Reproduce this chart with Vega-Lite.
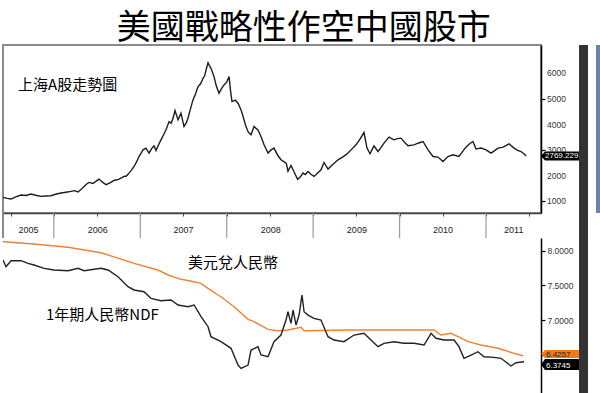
{
  "$schema": "https://vega.github.io/schema/vega-lite/v6.json",
  "padding": {"left": 2, "top": 12, "right": 0, "bottom": 0},
  "bounds": "flush",
  "spacing": 0,
  "background": "white",
  "title": {"text": "美國戰略性作空中國股市", "font": "Noto Sans CJK TC", "fontSize": 34, "fontWeight": "normal", "color": "#000", "anchor": "middle", "offset": -2},
  "config": {
    "view": {"stroke": null},
    "axis": {"labelFont": "Liberation Sans", "labelFontSize": 8.5, "labelColor": "#333", "title": null, "grid": false, "labelOverlap": false}
  },
  "datasets": {
    "shanghai": [
      {"year": 2005.412, "index": 1160}, {"year": 2005.46, "index": 1120}, {"year": 2005.505, "index": 1093}, {"year": 2005.56, "index": 1180},
      {"year": 2005.62, "index": 1250}, {"year": 2005.68, "index": 1230}, {"year": 2005.736, "index": 1288}, {"year": 2005.79, "index": 1240},
      {"year": 2005.852, "index": 1195}, {"year": 2005.91, "index": 1210}, {"year": 2005.967, "index": 1222}, {"year": 2006.02, "index": 1280},
      {"year": 2006.083, "index": 1327}, {"year": 2006.14, "index": 1360}, {"year": 2006.199, "index": 1390}, {"year": 2006.24, "index": 1420},
      {"year": 2006.28, "index": 1370}, {"year": 2006.32, "index": 1480}, {"year": 2006.349, "index": 1584}, {"year": 2006.38, "index": 1680},
      {"year": 2006.407, "index": 1740}, {"year": 2006.453, "index": 1700}, {"year": 2006.49, "index": 1790}, {"year": 2006.523, "index": 1872},
      {"year": 2006.56, "index": 1760}, {"year": 2006.604, "index": 1650}, {"year": 2006.65, "index": 1720}, {"year": 2006.696, "index": 1818},
      {"year": 2006.75, "index": 1860}, {"year": 2006.812, "index": 1974}, {"year": 2006.84, "index": 1990}, {"year": 2006.87, "index": 2105},
      {"year": 2006.9, "index": 2230}, {"year": 2006.928, "index": 2363}, {"year": 2006.96, "index": 2560}, {"year": 2006.985, "index": 2752},
      {"year": 2007.01, "index": 2880}, {"year": 2007.032, "index": 3013}, {"year": 2007.066, "index": 3080}, {"year": 2007.101, "index": 2885},
      {"year": 2007.13, "index": 3050}, {"year": 2007.159, "index": 3169}, {"year": 2007.182, "index": 2986}, {"year": 2007.21, "index": 3200},
      {"year": 2007.24, "index": 3402}, {"year": 2007.27, "index": 3600}, {"year": 2007.298, "index": 3792}, {"year": 2007.333, "index": 4115},
      {"year": 2007.356, "index": 4050}, {"year": 2007.379, "index": 4247}, {"year": 2007.402, "index": 4544}, {"year": 2007.437, "index": 4181},
      {"year": 2007.471, "index": 4442}, {"year": 2007.506, "index": 3921}, {"year": 2007.53, "index": 4050}, {"year": 2007.552, "index": 4247},
      {"year": 2007.58, "index": 4600}, {"year": 2007.61, "index": 4960}, {"year": 2007.64, "index": 5200}, {"year": 2007.668, "index": 5478},
      {"year": 2007.7, "index": 5600}, {"year": 2007.726, "index": 5805}, {"year": 2007.745, "index": 5900}, {"year": 2007.761, "index": 6128},
      {"year": 2007.784, "index": 6413}, {"year": 2007.8, "index": 6300}, {"year": 2007.818, "index": 6195}, {"year": 2007.853, "index": 5868},
      {"year": 2007.88, "index": 5500}, {"year": 2007.911, "index": 5221}, {"year": 2007.94, "index": 5400}, {"year": 2007.969, "index": 5544},
      {"year": 2008.0, "index": 5650}, {"year": 2008.027, "index": 5868}, {"year": 2008.045, "index": 5300}, {"year": 2008.061, "index": 4894},
      {"year": 2008.1, "index": 4950}, {"year": 2008.131, "index": 4832}, {"year": 2008.166, "index": 4571}, {"year": 2008.19, "index": 4300},
      {"year": 2008.223, "index": 3921}, {"year": 2008.25, "index": 3700}, {"year": 2008.281, "index": 3597}, {"year": 2008.316, "index": 3921},
      {"year": 2008.34, "index": 3850}, {"year": 2008.362, "index": 3792}, {"year": 2008.4, "index": 3500}, {"year": 2008.432, "index": 3208},
      {"year": 2008.478, "index": 2885}, {"year": 2008.51, "index": 3000}, {"year": 2008.547, "index": 3080}, {"year": 2008.59, "index": 2800},
      {"year": 2008.628, "index": 2624}, {"year": 2008.66, "index": 2550}, {"year": 2008.69, "index": 2480}, {"year": 2008.709, "index": 2180},
      {"year": 2008.744, "index": 2400}, {"year": 2008.78, "index": 2150}, {"year": 2008.82, "index": 1860}, {"year": 2008.85, "index": 1950},
      {"year": 2008.883, "index": 2106}, {"year": 2008.91, "index": 2050}, {"year": 2008.941, "index": 2168}, {"year": 2008.975, "index": 2060},
      {"year": 2009.01, "index": 1974}, {"year": 2009.05, "index": 2100}, {"year": 2009.091, "index": 2234}, {"year": 2009.126, "index": 2519},
      {"year": 2009.172, "index": 2262}, {"year": 2009.23, "index": 2450}, {"year": 2009.288, "index": 2624}, {"year": 2009.35, "index": 2750},
      {"year": 2009.403, "index": 2885}, {"year": 2009.45, "index": 3050}, {"year": 2009.496, "index": 3208}, {"year": 2009.54, "index": 3420},
      {"year": 2009.588, "index": 3687}, {"year": 2009.623, "index": 3080}, {"year": 2009.658, "index": 2857}, {"year": 2009.704, "index": 3169},
      {"year": 2009.75, "index": 2947}, {"year": 2009.78, "index": 3080}, {"year": 2009.82, "index": 3273}, {"year": 2009.877, "index": 3508},
      {"year": 2009.935, "index": 3402}, {"year": 2009.975, "index": 3450}, {"year": 2010.016, "index": 3468}, {"year": 2010.06, "index": 3300},
      {"year": 2010.097, "index": 3169}, {"year": 2010.167, "index": 3208}, {"year": 2010.22, "index": 3280}, {"year": 2010.271, "index": 3337},
      {"year": 2010.329, "index": 3013}, {"year": 2010.387, "index": 2752}, {"year": 2010.444, "index": 2729}, {"year": 2010.502, "index": 2558},
      {"year": 2010.56, "index": 2752}, {"year": 2010.618, "index": 2818}, {"year": 2010.687, "index": 2752}, {"year": 2010.73, "index": 2950},
      {"year": 2010.768, "index": 3118}, {"year": 2010.81, "index": 3250}, {"year": 2010.849, "index": 3337}, {"year": 2010.884, "index": 3042},
      {"year": 2010.942, "index": 3080}, {"year": 2011.0, "index": 3013}, {"year": 2011.057, "index": 2885}, {"year": 2011.1, "index": 2980},
      {"year": 2011.139, "index": 3080}, {"year": 2011.197, "index": 3118}, {"year": 2011.23, "index": 3180}, {"year": 2011.266, "index": 3247},
      {"year": 2011.324, "index": 3080}, {"year": 2011.36, "index": 3000}, {"year": 2011.405, "index": 2947}, {"year": 2011.44, "index": 2850},
      {"year": 2011.463, "index": 2769.229}
    ],
    "shNote": [{"year": 2005.586, "index": 5544, "label": "上海A股走勢圖"}],
    "shTag": [{"index": 2769.229, "label": "2769.229"}],
    "shTicks": [
      {"index": 1000, "label": "1000"}, {"index": 2000, "label": "2000"}, {"index": 3000, "label": "3000"},
      {"index": 4000, "label": "4000"}, {"index": 5000, "label": "5000"}, {"index": 6000, "label": "6000"}
    ],
    "years": [
      {"label": "2005", "start": 2005, "mid": 2005.706},
      {"label": "2006", "start": 2006, "mid": 2006.509},
      {"label": "2007", "start": 2007, "mid": 2007.5},
      {"label": "2008", "start": 2008, "mid": 2008.51},
      {"label": "2009", "start": 2009, "mid": 2009.506},
      {"label": "2010", "start": 2010, "mid": 2010.502},
      {"label": "2011", "start": 2011, "mid": 2011.321}
    ],
    "usdcny": [
      {"year": 2005.412, "rate": 8.13}, {"year": 2005.771, "rate": 8.097}, {"year": 2006.164, "rate": 8.049}, {"year": 2006.546, "rate": 7.971},
      {"year": 2006.928, "rate": 7.818}, {"year": 2007.205, "rate": 7.722}, {"year": 2007.321, "rate": 7.65}, {"year": 2007.471, "rate": 7.588},
      {"year": 2007.552, "rate": 7.57}, {"year": 2007.703, "rate": 7.53}, {"year": 2007.784, "rate": 7.458}, {"year": 2007.899, "rate": 7.362},
      {"year": 2007.934, "rate": 7.337}, {"year": 2008.085, "rate": 7.193}, {"year": 2008.247, "rate": 7.011}, {"year": 2008.316, "rate": 6.977},
      {"year": 2008.478, "rate": 6.867}, {"year": 2008.594, "rate": 6.847}, {"year": 2008.709, "rate": 6.857}, {"year": 2008.86, "rate": 6.896},
      {"year": 2008.895, "rate": 6.847}, {"year": 2009.403, "rate": 6.857}, {"year": 2009.785, "rate": 6.857}, {"year": 2010.398, "rate": 6.857},
      {"year": 2010.479, "rate": 6.785}, {"year": 2010.595, "rate": 6.81}, {"year": 2010.676, "rate": 6.761}, {"year": 2010.792, "rate": 6.689},
      {"year": 2010.942, "rate": 6.641}, {"year": 2011.139, "rate": 6.594}, {"year": 2011.324, "rate": 6.522}, {"year": 2011.428, "rate": 6.487}
    ],
    "ndf": [
      {"year": 2005.412, "rate": 7.866}, {"year": 2005.447, "rate": 7.769}, {"year": 2005.505, "rate": 7.856}, {"year": 2005.62, "rate": 7.856},
      {"year": 2005.701, "rate": 7.818}, {"year": 2005.771, "rate": 7.794}, {"year": 2005.886, "rate": 7.746}, {"year": 2006.002, "rate": 7.722},
      {"year": 2006.164, "rate": 7.712}, {"year": 2006.28, "rate": 7.746}, {"year": 2006.349, "rate": 7.712}, {"year": 2006.546, "rate": 7.746},
      {"year": 2006.627, "rate": 7.722}, {"year": 2006.743, "rate": 7.625}, {"year": 2006.858, "rate": 7.481}, {"year": 2006.928, "rate": 7.434},
      {"year": 2007.043, "rate": 7.409}, {"year": 2007.124, "rate": 7.314}, {"year": 2007.24, "rate": 7.28}, {"year": 2007.356, "rate": 7.29},
      {"year": 2007.437, "rate": 7.218}, {"year": 2007.552, "rate": 7.193}, {"year": 2007.622, "rate": 7.218}, {"year": 2007.703, "rate": 7.049},
      {"year": 2007.784, "rate": 6.905}, {"year": 2007.818, "rate": 6.761}, {"year": 2007.934, "rate": 6.689}, {"year": 2008.05, "rate": 6.594},
      {"year": 2008.131, "rate": 6.353}, {"year": 2008.166, "rate": 6.305}, {"year": 2008.247, "rate": 6.353}, {"year": 2008.281, "rate": 6.569},
      {"year": 2008.362, "rate": 6.617}, {"year": 2008.397, "rate": 6.497}, {"year": 2008.478, "rate": 6.473}, {"year": 2008.547, "rate": 6.689},
      {"year": 2008.628, "rate": 6.785}, {"year": 2008.686, "rate": 7.001}, {"year": 2008.709, "rate": 7.121}, {"year": 2008.744, "rate": 6.954},
      {"year": 2008.767, "rate": 7.146}, {"year": 2008.802, "rate": 6.929}, {"year": 2008.837, "rate": 7.073}, {"year": 2008.871, "rate": 7.362},
      {"year": 2008.895, "rate": 7.121}, {"year": 2008.941, "rate": 7.073}, {"year": 2009.01, "rate": 7.026}, {"year": 2009.091, "rate": 7.001},
      {"year": 2009.172, "rate": 6.761}, {"year": 2009.241, "rate": 6.713}, {"year": 2009.357, "rate": 6.689}, {"year": 2009.473, "rate": 6.785},
      {"year": 2009.588, "rate": 6.81}, {"year": 2009.669, "rate": 6.713}, {"year": 2009.75, "rate": 6.617}, {"year": 2009.82, "rate": 6.666},
      {"year": 2009.935, "rate": 6.689}, {"year": 2010.051, "rate": 6.666}, {"year": 2010.167, "rate": 6.666}, {"year": 2010.283, "rate": 6.641},
      {"year": 2010.364, "rate": 6.81}, {"year": 2010.421, "rate": 6.738}, {"year": 2010.514, "rate": 6.713}, {"year": 2010.63, "rate": 6.713},
      {"year": 2010.687, "rate": 6.617}, {"year": 2010.745, "rate": 6.45}, {"year": 2010.826, "rate": 6.497}, {"year": 2010.907, "rate": 6.545},
      {"year": 2010.977, "rate": 6.473}, {"year": 2011.092, "rate": 6.464}, {"year": 2011.173, "rate": 6.45}, {"year": 2011.289, "rate": 6.339},
      {"year": 2011.347, "rate": 6.386}, {"year": 2011.44, "rate": 6.4}
    ],
    "fxNotes": [
      {"year": 2007.552, "rate": 7.816, "label": "美元兌人民幣"},
      {"year": 2005.91, "rate": 7.073, "label": "1年期人民幣NDF"}
    ],
    "cnyTag": [{"rate": 6.4257, "label": "6.4257"}],
    "ndfTag": [{"rate": 6.3745, "label": "6.3745"}]
  },
  "vconcat": [
    {
      "width": 538,
      "height": 168,
      "view": {"stroke": "#8a8a8a", "strokeWidth": 2},
      "layer": [
        {
          "data": {"name": "shanghai"},
          "mark": {"type": "line", "color": "#1c1c1c", "strokeWidth": 1.4, "clip": true},
          "encoding": {
            "x": {"field": "year", "type": "quantitative", "scale": {"domain": [2005.412, 2011.636], "nice": false, "zero": false},
              "axis": {"orient": "bottom", "values": [2005.5, 2005.75, 2006, 2006.25, 2006.5, 2006.75, 2007, 2007.25, 2007.5, 2007.75, 2008, 2008.25, 2008.5, 2008.75, 2009, 2009.25, 2009.5, 2009.75, 2010, 2010.25, 2010.5, 2010.75, 2011, 2011.25, 2011.5],
                "labels": false, "tickSize": 3, "tickColor": "#444", "domainColor": "#444", "domainWidth": 1.5, "title": null}},
            "y": {"field": "index", "type": "quantitative", "scale": {"domain": [548, 7102], "nice": false, "zero": false},
              "axis": {"orient": "right", "values": [1000, 1500, 2000, 2500, 3000, 3500, 4000, 4500, 5000, 5500, 6000, 6500], "labels": false,
                "tickSize": {"condition": {"test": "datum.value % 1000 == 0", "value": 4}, "value": 2},
                "domainColor": "#000", "domainWidth": 1.5, "tickColor": "#000", "tickWidth": 1.2, "title": null}}
          }
        },
        {
          "data": {"name": "shTicks"},
          "mark": {"type": "text", "align": "left", "baseline": "middle", "dx": 6, "font": "Liberation Sans", "fontSize": 8.5, "color": "#333"},
          "encoding": {
            "x": {"datum": 2011.636, "type": "quantitative"},
            "y": {"field": "index", "type": "quantitative"},
            "text": {"field": "label"}
          }
        },
        {
          "data": {"name": "shNote"},
          "mark": {"type": "text", "align": "left", "baseline": "middle", "font": "Noto Sans CJK TC", "fontSize": 15, "color": "#000"},
          "encoding": {
            "x": {"field": "year", "type": "quantitative"},
            "y": {"field": "index", "type": "quantitative"},
            "text": {"field": "label"}
          }
        },
        {
          "data": {"name": "shTag"},
          "mark": {"type": "point", "shape": "M0,0 L0.8,-0.9 L7.6,-0.9 L7.6,0.9 L0.8,0.9 Z", "size": 100, "filled": true, "color": "#000", "opacity": 1, "strokeWidth": 0},
          "encoding": {
            "x": {"datum": 2011.636, "type": "quantitative"},
            "y": {"field": "index", "type": "quantitative"}
          }
        },
        {
          "data": {"name": "shTag"},
          "mark": {"type": "text", "align": "left", "baseline": "middle", "dx": 4, "font": "Liberation Sans", "fontSize": 8, "color": "#fff"},
          "encoding": {
            "x": {"datum": 2011.636, "type": "quantitative"},
            "y": {"field": "index", "type": "quantitative"},
            "text": {"field": "label"}
          }
        },
        {
          "data": {"values": [{}]},
          "mark": {"type": "rect", "color": "#333"},
          "encoding": {
            "x": {"datum": 2012.076, "type": "quantitative"},
            "x2": {"datum": 2012.18}
          }
        },
        {
          "data": {"values": [{}]},
          "mark": {"type": "rect", "color": "#6b82ad"},
          "encoding": {
            "x": {"datum": 2012.272, "type": "quantitative"},
            "x2": {"datum": 2012.37}
          }
        }
      ]
    },
    {
      "width": 538,
      "height": 25,
      "layer": [
        {
          "data": {"name": "years"},
          "mark": {"type": "rule", "color": "#9a9a9a", "strokeWidth": 1.2, "clip": true},
          "encoding": {
            "x": {"field": "start", "type": "quantitative", "scale": {"domain": [2005.412, 2011.636], "nice": false, "zero": false}, "axis": null}
          }
        },
        {
          "data": {"values": [{}]},
          "mark": {"type": "rule", "color": "#8a8a8a", "strokeWidth": 2},
          "encoding": {"x": {"datum": 2005.412, "type": "quantitative"}}
        },
        {
          "data": {"name": "years"},
          "mark": {"type": "text", "baseline": "middle", "dy": 4, "font": "Liberation Sans", "fontSize": 9, "color": "#222"},
          "encoding": {
            "x": {"field": "mid", "type": "quantitative"},
            "text": {"field": "label"}
          }
        },
        {
          "data": {"values": [{}]},
          "mark": {"type": "rect", "color": "#333"},
          "encoding": {
            "x": {"datum": 2012.076, "type": "quantitative"},
            "x2": {"datum": 2012.18}
          }
        }
      ]
    },
    {
      "width": 538,
      "height": 155,
      "layer": [
        {
          "data": {"name": "usdcny"},
          "mark": {"type": "line", "color": "#f08232", "strokeWidth": 1.4, "clip": true},
          "encoding": {
            "x": {"field": "year", "type": "quantitative", "scale": {"domain": [2005.412, 2011.636], "nice": false, "zero": false}, "axis": null},
            "y": {"field": "rate", "type": "quantitative", "scale": {"domain": [5.95, 8.183], "nice": false, "zero": false},
              "axis": {"orient": "right", "values": [6.5, 6.75, 7, 7.25, 7.5, 7.75, 8], "format": ".4f",
                "labelOverlap": false,
                "labelExpr": "(datum.value == 7 || datum.value == 7.5 || datum.value == 8) ? datum.label : ''",
                "tickSize": {"condition": {"test": "datum.value == 6.5 || datum.value == 7 || datum.value == 7.5 || datum.value == 8", "value": 4}, "value": 2},
                "domainColor": "#000", "domainWidth": 1.5, "tickColor": "#000", "tickWidth": 1.2, "labelPadding": 2, "title": null}}
          }
        },
        {
          "data": {"name": "ndf"},
          "mark": {"type": "line", "color": "#222", "strokeWidth": 1.4, "clip": true},
          "encoding": {
            "x": {"field": "year", "type": "quantitative"},
            "y": {"field": "rate", "type": "quantitative"}
          }
        },
        {
          "data": {"name": "fxNotes"},
          "mark": {"type": "text", "align": "left", "baseline": "middle", "font": "Noto Sans CJK TC", "fontSize": 15, "color": "#000"},
          "encoding": {
            "x": {"field": "year", "type": "quantitative"},
            "y": {"field": "rate", "type": "quantitative"},
            "text": {"field": "label"}
          }
        },
        {
          "data": {"name": "cnyTag"},
          "mark": {"type": "point", "shape": "M0,-1.2 L0.8,-2 L7.6,-2 L7.6,-0.4 L0.8,-0.4 Z", "size": 100, "filled": true, "color": "#f07a14", "opacity": 1, "strokeWidth": 0},
          "encoding": {
            "x": {"datum": 2011.636, "type": "quantitative"},
            "y": {"field": "rate", "type": "quantitative"}
          }
        },
        {
          "data": {"name": "cnyTag"},
          "mark": {"type": "text", "align": "left", "baseline": "middle", "dx": 5, "dy": -5, "font": "Liberation Sans", "fontSize": 8, "color": "#222"},
          "encoding": {
            "x": {"datum": 2011.636, "type": "quantitative"},
            "y": {"field": "rate", "type": "quantitative"},
            "text": {"field": "label"}
          }
        },
        {
          "data": {"name": "ndfTag"},
          "mark": {"type": "point", "shape": "M0,0.2 L0.8,-0.9 L7.6,-0.9 L7.6,1.3 L0.8,1.3 Z", "size": 100, "filled": true, "color": "#000", "opacity": 1, "strokeWidth": 0},
          "encoding": {
            "x": {"datum": 2011.636, "type": "quantitative"},
            "y": {"field": "rate", "type": "quantitative"}
          }
        },
        {
          "data": {"name": "ndfTag"},
          "mark": {"type": "text", "align": "left", "baseline": "middle", "dx": 5, "dy": 2, "font": "Liberation Sans", "fontSize": 8, "color": "#fff"},
          "encoding": {
            "x": {"datum": 2011.636, "type": "quantitative"},
            "y": {"field": "rate", "type": "quantitative"},
            "text": {"field": "label"}
          }
        },
        {
          "data": {"values": [{}]},
          "mark": {"type": "rect", "color": "#333"},
          "encoding": {
            "x": {"datum": 2012.076, "type": "quantitative"},
            "x2": {"datum": 2012.18}
          }
        }
      ]
    }
  ]
}
